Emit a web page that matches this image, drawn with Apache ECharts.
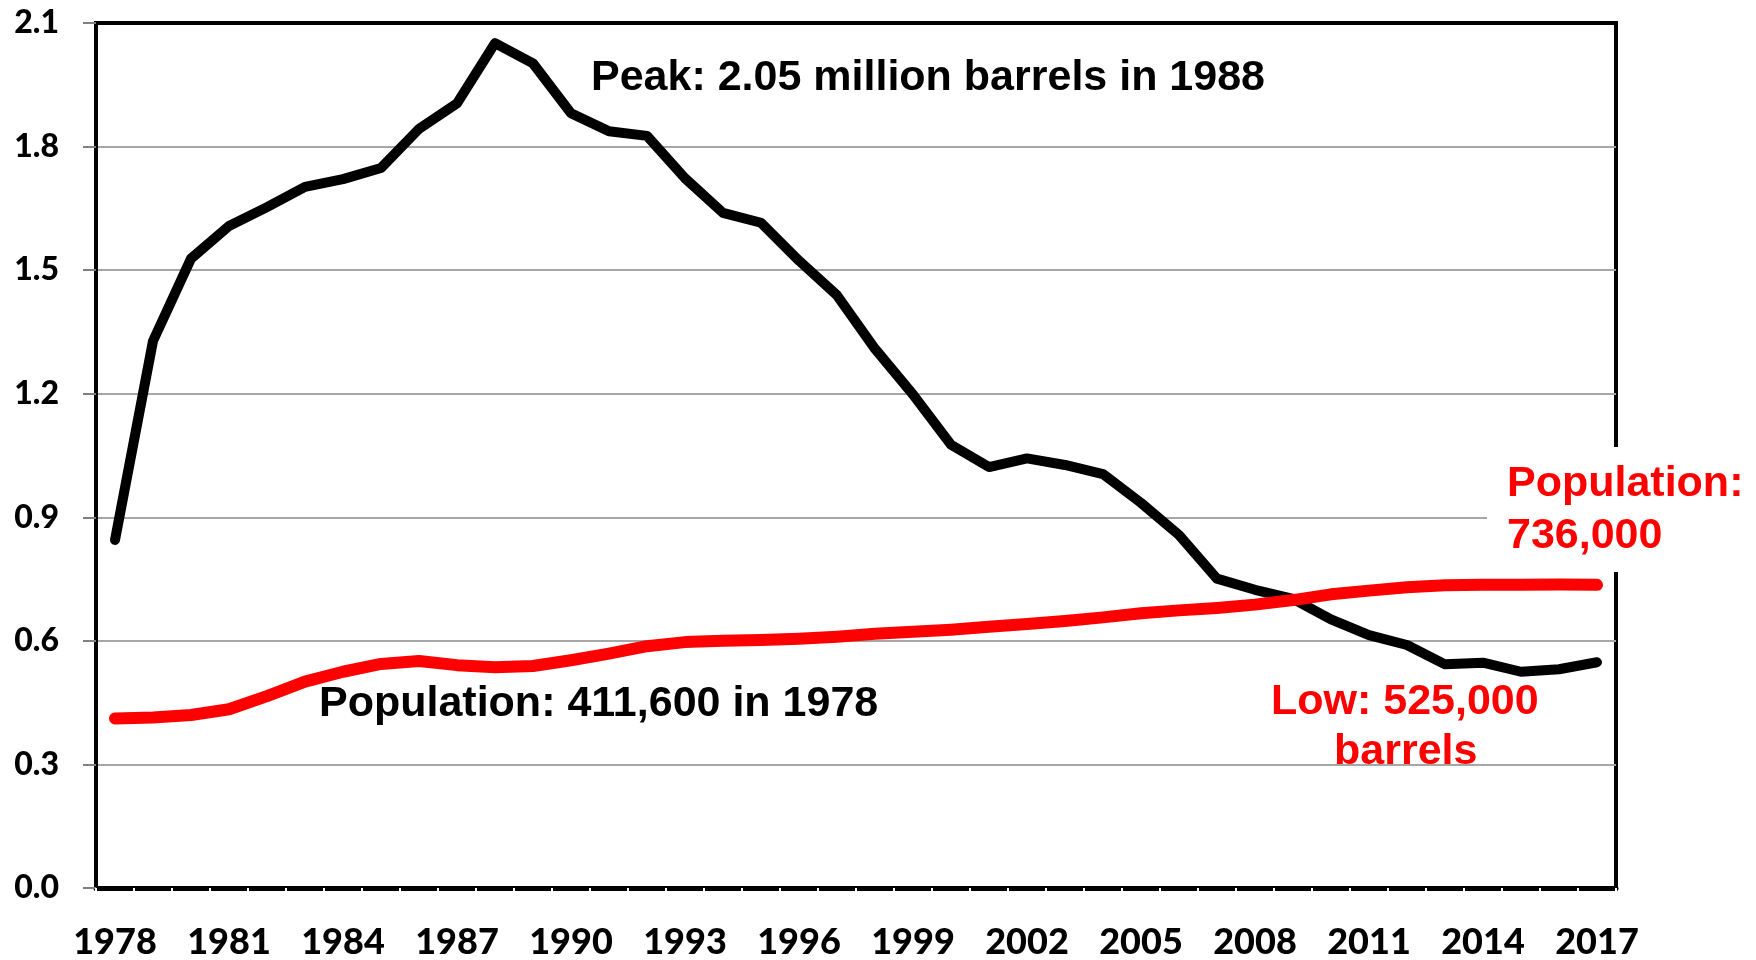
<!DOCTYPE html>
<html>
<head>
<meta charset="utf-8">
<script src="https://cdn.jsdelivr.net/npm/echarts@6/dist/echarts.min.js"></script>
<style>
  html, body { margin: 0; padding: 0; background: #fff; }
  #chart { width: 1756px; height: 960px; }
</style>
</head>
<body>
<div id="chart"></div>
<script>
// Categories (years)
var years = ['1978','1979','1980','1981','1982','1983','1984','1985','1986','1987',
             '1988','1989','1990','1991','1992','1993','1994','1995','1996','1997',
             '1998','1999','2000','2001','2002','2003','2004','2005','2006','2007',
             '2008','2009','2010','2011','2012','2013','2014','2015','2016','2017'];

// Oil production, million barrels per day (black line)
var oilProduction = [0.845, 1.328, 1.528, 1.607, 1.653, 1.702, 1.721, 1.748, 1.843, 1.905,
                     2.051, 2.002, 1.881, 1.837, 1.826, 1.723, 1.639, 1.615, 1.523, 1.439,
                     1.309, 1.198, 1.076, 1.022, 1.043, 1.027, 1.005, 0.935, 0.857, 0.751,
                     0.724, 0.702, 0.652, 0.614, 0.590, 0.543, 0.547, 0.525, 0.531, 0.548];

// Population, millions (red line)
var population = [0.4116, 0.414, 0.420, 0.434, 0.466, 0.501, 0.525, 0.544, 0.551, 0.541,
                  0.536, 0.539, 0.553, 0.569, 0.587, 0.597, 0.600, 0.602, 0.605, 0.610,
                  0.617, 0.622, 0.627, 0.634, 0.641, 0.648, 0.657, 0.667, 0.674, 0.680,
                  0.688, 0.699, 0.713, 0.722, 0.730, 0.735, 0.736, 0.736, 0.737, 0.736];

// Y tick settings
var yMin = 0, yMax = 2.1, yStep = 0.3;

// Annotation texts
var peakLabel = 'Peak: 2.05 million barrels in 1988';
var popStartLabel = 'Population: 411,600 in 1978';
var popEndLabel = ['Population:', '736,000'];
var lowLabel = ['Low: 525,000', 'barrels'];

var chart = echarts.init(document.getElementById('chart'), null, { renderer: 'canvas' });

var annFont = 'bold 43px "Liberation Sans", Arial, sans-serif';

var option = {
  animation: false,
  backgroundColor: '#ffffff',
  grid: {
    left: 96, right: 140, top: 23, bottom: 70,
    show: true, borderColor: '#000', borderWidth: 4, backgroundColor: 'transparent'
  },
  xAxis: {
    type: 'category',
    data: years,
    boundaryGap: true,
    axisLine: { show: true, lineStyle: { color: '#000', width: 5 } },
    axisTick: { show: true, interval: 0, length: 3, lineStyle: { color: '#fff', width: 2 } },
    axisLabel: {
      interval: 2, margin: 36, color: '#000',
      fontFamily: 'Lato', fontWeight: 900, fontSize: 36
    },
    splitLine: { show: false }
  },
  yAxis: {
    type: 'value',
    min: yMin, max: yMax, interval: yStep,
    axisLine: { show: true, lineStyle: { color: '#000', width: 4 } },
    axisTick: { show: true, length: 13, lineStyle: { color: '#808080', width: 2 } },
    axisLabel: {
      margin: 37, color: '#000',
      fontFamily: 'Lato', fontWeight: 900, fontSize: 32,
      formatter: function (v) { return v.toFixed(1); }
    },
    splitLine: { show: true, showMinLine: false, showMaxLine: false,
                 lineStyle: { color: '#a6a6a6', width: 2 } }
  },
  series: [
    {
      name: 'Oil production',
      type: 'line',
      data: oilProduction,
      symbol: 'none',
      lineStyle: { color: '#000', width: 10, cap: 'round', join: 'round' },
      z: 3
    },
    {
      name: 'Population',
      type: 'line',
      data: population,
      symbol: 'none',
      lineStyle: { color: '#ff0000', width: 12, cap: 'round', join: 'round' },
      z: 4
    }
  ],
  graphic: [
    { type: 'text', z: 100, left: 591, top: 57,
      style: { text: peakLabel, font: annFont, fill: '#000' } },
    { type: 'text', z: 100, left: 319, top: 683,
      style: { text: popStartLabel, font: annFont, fill: '#000' } },
    { type: 'rect', z: 99, shape: { x: 1487, y: 447, width: 269, height: 125 },
      style: { fill: '#fff' } },
    { type: 'text', z: 100, left: 1507, top: 463,
      style: { text: popEndLabel[0], font: annFont, fill: '#ff0000' } },
    { type: 'text', z: 100, left: 1507, top: 515,
      style: { text: popEndLabel[1], font: annFont, fill: '#ff0000' } },
    { type: 'text', z: 100, left: 1271, top: 681,
      style: { text: lowLabel[0], font: annFont, fill: '#ff0000' } },
    { type: 'text', z: 100, left: 1334, top: 731,
      style: { text: lowLabel[1], font: annFont, fill: '#ff0000' } }
  ]
};

chart.setOption(option);
</script>
</body>
</html>
